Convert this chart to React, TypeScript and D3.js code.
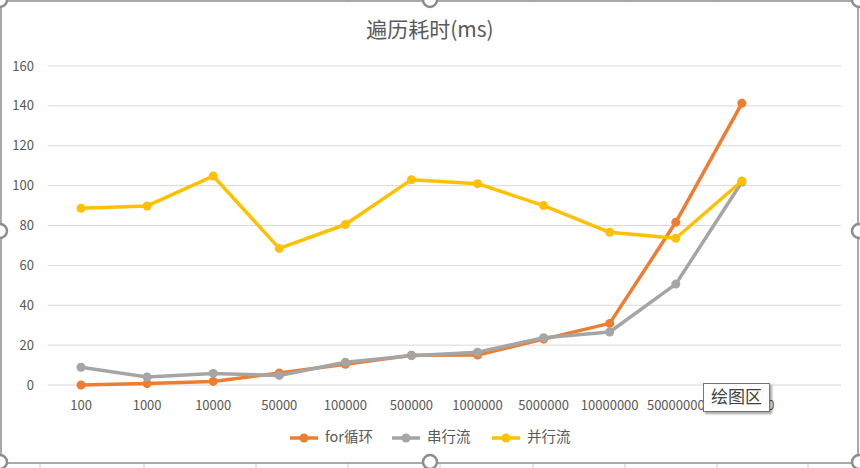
import React from 'react';
import * as d3 from 'd3';

const categories = ['100', '1000', '10000', '50000', '100000', '500000', '1000000', '5000000', '10000000', '50000000', '100000000', ''];
const forLoop = [0, 0.7, 1.8, 6, 10.4, 14.9, 15, 23, 30.9, 81.6, 141.3];
const serialStream = [8.9, 4, 5.8, 4.8, 11.4, 14.7, 16.4, 23.7, 26.6, 50.6, 101.8];
const parallelStream = [88.6, 89.8, 104.8, 68.5, 80.5, 103, 101, 90, 76.6, 73.6, 102.3];
const yTicks = [0, 20, 40, 60, 80, 100, 120, 140, 160];
const seriesNames = ['for循环', '串行流', '并行流'];
const colLines = [40, 144, 256, 348, 440, 533, 625, 717, 808];

const W = 860;
const H = 468;
const font = '"Noto Sans CJK SC", "Open Sans", sans-serif';
const textColor = '#595959';

export default function App() {
  const x = d3.scaleBand<string>().domain(categories).range([48, 841]).padding(0);
  const y = d3.scaleLinear().domain([0, 160]).range([385, 66]);
  const cx = (i: number) => x(categories[i])! + x.bandwidth() / 2;

  const series = [
    { name: seriesNames[0], values: forLoop, color: '#ED7D31' },
    { name: seriesNames[1], values: serialStream, color: '#A5A5A5' },
    { name: seriesNames[2], values: parallelStream, color: '#FFC000' },
  ];

  const line = d3.line<number>()
    .x((_, i) => cx(i))
    .y((d) => y(d));

  const legendX = [290, 392, 492];

  return (
    <svg width={W} height={H} style={{ position: 'absolute', left: 0, top: 0, background: '#fff' }}>
      <defs>
        <filter id="shadow" x="-20%" y="-20%" width="150%" height="160%">
          <feDropShadow dx="2" dy="2" stdDeviation="1" floodColor="#000" floodOpacity="0.35" />
        </filter>
      </defs>

      {/* sheet column lines outside the chart */}
      {colLines.map((c) => (
        <g key={c}>
          <line x1={c} x2={c} y1={0} y2={2} stroke="#c8c8c8" />
          <line x1={c} x2={c} y1={463} y2={H} stroke="#c8c8c8" />
        </g>
      ))}

      {/* chart frame */}
      <rect x={1} y={1} width={857} height={462} fill="#fff" stroke="#8c8c8c" strokeWidth={1.5} />

      {/* title */}
      <text x={430} y={31} textAnchor="middle" dominantBaseline="middle" fontFamily={font} fontSize={21} fill={textColor}>
        遍历耗时(ms)
      </text>

      {/* gridlines and y labels */}
      {yTicks.map((t) => (
        <g key={t}>
          <line x1={48} x2={841} y1={y(t)} y2={y(t)} stroke="#d9d9d9" strokeWidth={1} />
          <text x={34} y={y(t) + 1} textAnchor="end" dominantBaseline="middle" fontFamily={font} fontSize={13} fill={textColor}>
            {t}
          </text>
        </g>
      ))}

      {/* x labels */}
      {categories.map((c, i) => (
        <text key={i} x={cx(i)} y={406} textAnchor="middle" dominantBaseline="middle" fontFamily={font} fontSize={13} fill={textColor}>
          {c}
        </text>
      ))}

      {/* series */}
      {series.map((s) => (
        <g key={s.name}>
          <path d={line(s.values)!} fill="none" stroke={s.color} strokeWidth={3.5} strokeLinejoin="round" />
          {s.values.map((v, i) => (
            <circle key={i} cx={cx(i)} cy={y(v)} r={4.5} fill={s.color} />
          ))}
        </g>
      ))}

      {/* legend */}
      {series.map((s, i) => (
        <g key={s.name}>
          <line x1={legendX[i]} x2={legendX[i] + 28} y1={438} y2={438} stroke={s.color} strokeWidth={3.5} />
          <circle cx={legendX[i] + 14} cy={438} r={4.5} fill={s.color} />
          <text x={legendX[i] + 35} y={438} dominantBaseline="middle" fontFamily={font} fontSize={14.5} fill={textColor}>
            {s.name}
          </text>
        </g>
      ))}

      {/* hover tooltip */}
      <g filter="url(#shadow)">
        <rect x={703.5} y={383.5} width={66} height={28} fill="#fff" stroke="#767676" strokeWidth={1} />
      </g>
      <text x={736.5} y={398} textAnchor="middle" dominantBaseline="middle" fontFamily={font} fontSize={17} fill="#404040">
        绘图区
      </text>

      {/* selection handles */}
      {[[0, 0], [430, 0], [859, 0], [0, 231], [859, 231], [0, 462], [430, 462], [859, 462]].map(([hx, hy], i) => (
        <circle key={i} cx={hx} cy={hy} r={7} fill="#fff" stroke="#8c8c8c" strokeWidth={2.5} />
      ))}
    </svg>
  );
}
